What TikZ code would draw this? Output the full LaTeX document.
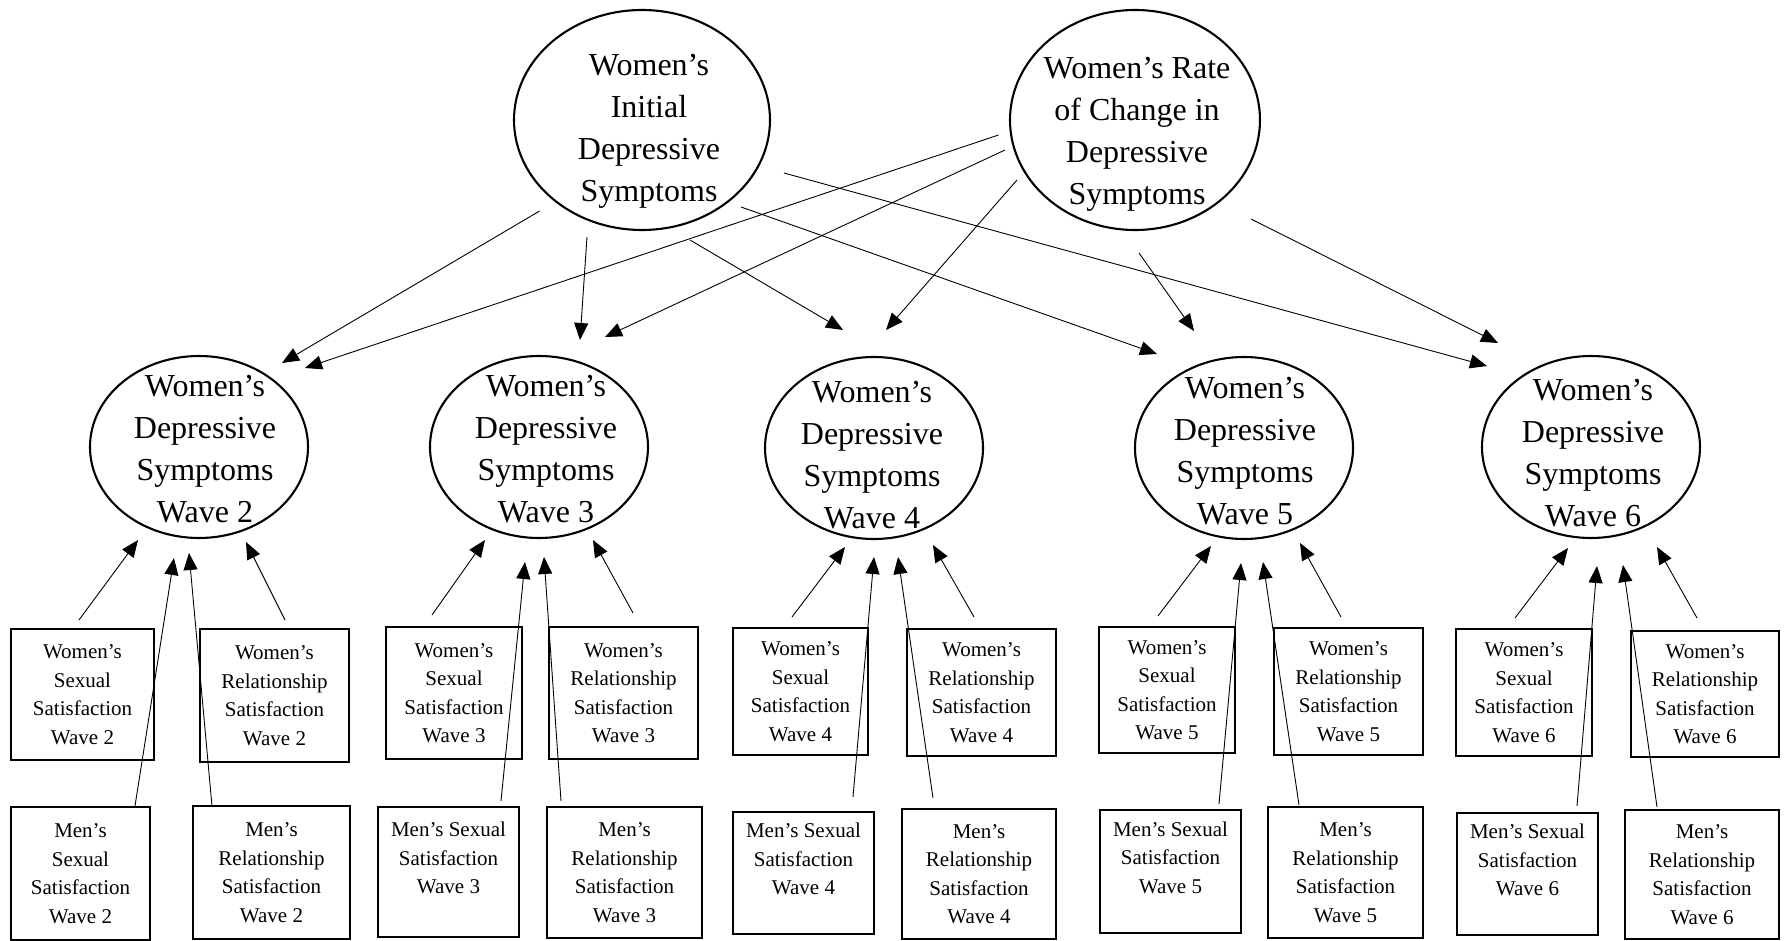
\documentclass[tikz,border=0pt]{standalone}
\usepackage{fontspec}
\setmainfont{Liberation Serif}
\usetikzlibrary{arrows.meta,shapes.geometric}
\newcommand{\sbx}[6]{\node[sbox, minimum width={(#3-#2)*0.5pt}, minimum height={(#5-#4)*0.5pt}] (#1) at ({(#2+#3)/2},{(#4+#5)/2}) {#6};}
\begin{document}
\begin{tikzpicture}[x=0.5pt,y=-0.5pt,
  ell/.style={draw, ellipse, line width=1.05pt, inner sep=0pt},
  topell/.style={ell, minimum height=110pt},
  wave/.style={ell, minimum width=109pt, minimum height=91pt},
  etext/.style={align=center, font=\fontsize{16}{21}\selectfont, inner sep=0pt},
  sbox/.style={draw, rectangle, line width=0.85pt, inner sep=0pt, align=center, font=\fontsize{10.5}{14.25}\selectfont},
  arr/.style={line width=0.45pt, -{Triangle[length=8.5pt,width=7pt]}}]
\useasboundingbox (0,0) rectangle (1784,941);

% top latent factors
\node[topell, minimum width=128pt] (I) at (642,120) {};
\node[etext] (It) at (649,131) {Women’s\\Initial\\Depressive\\Symptoms};
\node[topell, minimum width=125pt] (R) at (1135,120) {};
\node[etext] (Rt) at (1137,134) {Women’s Rate\\of Change in\\Depressive\\Symptoms};

% wave ellipses
\node[wave] (W2) at (199,447) {};
\node[etext] (W2t) at (205,449) {Women’s\\Depressive\\Symptoms\\Wave 2};
\node[wave] (W3) at (539,447) {};
\node[etext] (W3t) at (546,449) {Women’s\\Depressive\\Symptoms\\Wave 3};
\node[wave] (W4) at (874,448) {};
\node[etext] (W4t) at (872,455) {Women’s\\Depressive\\Symptoms\\Wave 4};
\node[wave] (W5) at (1244,448) {};
\node[etext] (W5t) at (1245,451) {Women’s\\Depressive\\Symptoms\\Wave 5};
\node[wave] (W6) at (1591,447) {};
\node[etext] (W6t) at (1593,453) {Women’s\\Depressive\\Symptoms\\Wave 6};

% boxes
\sbx{WS2}{11}{154}{629}{760}{Women’s\\Sexual\\Satisfaction\\Wave 2}
\sbx{WR2}{200}{349}{629}{762}{Women’s\\Relationship\\Satisfaction\\Wave 2}
\sbx{MS2}{11}{150}{807}{940}{Men’s\\Sexual\\Satisfaction\\Wave 2}
\sbx{MR2}{193}{350}{806}{939}{Men’s\\Relationship\\Satisfaction\\Wave 2}

\sbx{WS3}{386}{522}{627}{759}{Women’s\\Sexual\\Satisfaction\\Wave 3}
\sbx{WR3}{549}{698}{627}{759}{Women’s\\Relationship\\Satisfaction\\Wave 3}
\sbx{MS3}{378}{519}{807}{937}{Men’s Sexual\\Satisfaction\\Wave 3\\\mbox{}}
\sbx{MR3}{547}{702}{807}{938}{Men’s\\Relationship\\Satisfaction\\Wave 3}

\sbx{WS4}{733}{868}{628}{755}{Women’s\\Sexual\\Satisfaction\\Wave 4}
\sbx{WR4}{907}{1056}{629}{756}{Women’s\\Relationship\\Satisfaction\\Wave 4}
\sbx{MS4}{733}{874}{812}{934}{Men’s Sexual\\Satisfaction\\Wave 4\\\mbox{}}
\sbx{MR4}{902}{1056}{809}{939}{Men’s\\Relationship\\Satisfaction\\Wave 4}

\sbx{WS5}{1099}{1235}{627}{753}{Women’s\\Sexual\\Satisfaction\\Wave 5}
\sbx{WR5}{1274}{1423}{628}{755}{Women’s\\Relationship\\Satisfaction\\Wave 5}
\sbx{MS5}{1100}{1241}{810}{933}{Men’s Sexual\\Satisfaction\\Wave 5\\\mbox{}}
\sbx{MR5}{1268}{1423}{807}{938}{Men’s\\Relationship\\Satisfaction\\Wave 5}

\sbx{WS6}{1456}{1592}{629}{756}{Women’s\\Sexual\\Satisfaction\\Wave 6}
\sbx{WR6}{1631}{1779}{631}{757}{Women’s\\Relationship\\Satisfaction\\Wave 6}
\sbx{MS6}{1457}{1598}{813}{935}{Men’s Sexual\\Satisfaction\\Wave 6\\\mbox{}}
\sbx{MR6}{1625}{1779}{810}{939}{Men’s\\Relationship\\Satisfaction\\Wave 6}

% connectors (free-floating ends, as in the reference)
\foreach \n/\xa/\ya/\xb/\yb in {
  IW2/539.6/211/282/363, RW2/998.5/135/305/368,
  IW3/587/237/580/340,   RW3/1005/150/605/337,
  IW4/690/240/843/330,   RW4/1017/180/886/330,
  IW5/741/207/1157/354,  RW5/1139/253/1194/331,
  IW6/784/173/1487/366,  RW6/1251/219/1498/343,
  WS2/79/620/138/540,    MS2/135/806/174/558,  MR2/212/806/189/553,  WR2/285/620/246/542,
  WS3/432/615/485/540,   MS3/501/801/525/562,  MR3/561/801/544/557,  WR3/633/613/593/540,
  WS4/792/617/845/547,   MS4/853/797/874/557,  MR4/933/798/898/557,  WR4/974/617/933/545,
  WS5/1158/616/1211/546, MS5/1219/804/1241/563, MR5/1299/805/1263/562, WR5/1341/617/1300/543,
  WS6/1515/618/1568/548, MS6/1577/806/1597/566, MR6/1657/807/1623/565, WR6/1697/618/1657/547}
{
  \coordinate (s\n) at (\xa,\ya);
  \coordinate (t\n) at (\xb,\yb);
  \draw[arr] (s\n) -- (t\n);
}
\end{tikzpicture}
\end{document}
